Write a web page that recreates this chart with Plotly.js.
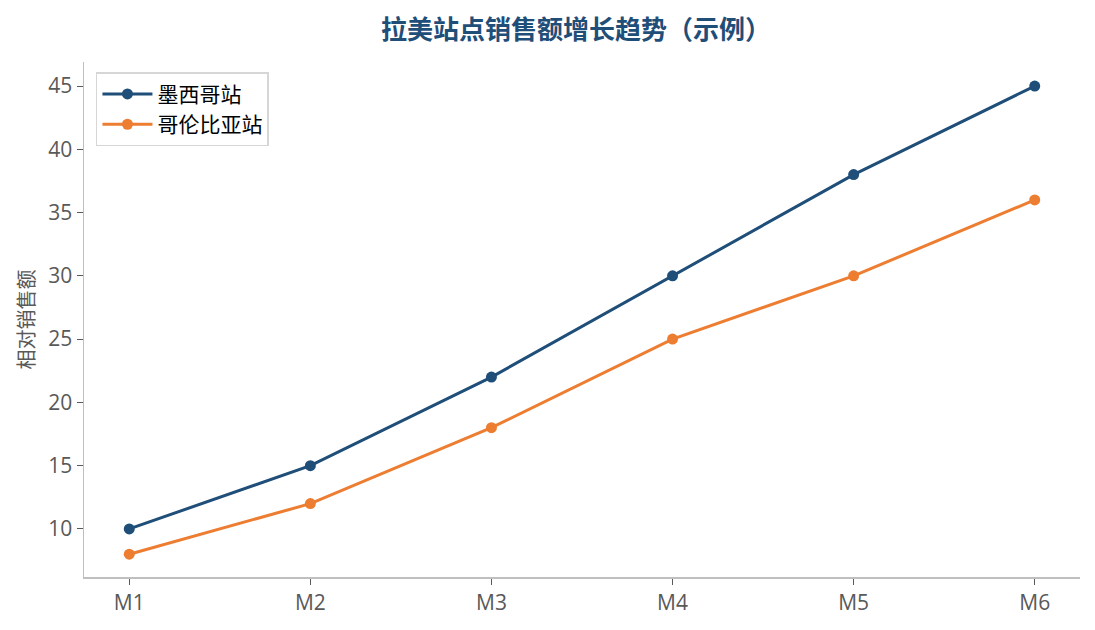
<!DOCTYPE html>
<html>
<head>
<meta charset="utf-8">
<script src="https://cdn.plot.ly/plotly-3.0.1.min.js"></script>
<style>
  html, body { margin: 0; padding: 0; background: #fff; }
  #chart { width: 1095px; height: 630px; }
</style>
</head>
<body>
<div id="chart"></div>
<script>
const months = ["M1", "M2", "M3", "M4", "M5", "M6"];
const mexico = [10, 15, 22, 30, 38, 45];
const colombia = [8, 12, 18, 25, 30, 36];
const seriesNames = ["墨西哥站", "哥伦比亚站"];
const seriesColors = ["#1f4e79", "#ed7d31"];

const fontFamily = '"Open Sans", "Noto Sans CJK SC", sans-serif';
const cjkFamily = '"Noto Sans CJK SC", sans-serif';

function makeTrace(name, values, color) {
  return {
    x: months,
    y: values,
    name: name,
    type: "scatter",
    mode: "lines+markers",
    line: { color: color, width: 3 },
    marker: { color: color, size: 11 },
  };
}

const data = [
  makeTrace(seriesNames[0], mexico, seriesColors[0]),
  makeTrace(seriesNames[1], colombia, seriesColors[1]),
];

const layout = {
  width: 1095,
  height: 630,
  paper_bgcolor: "#ffffff",
  plot_bgcolor: "#ffffff",
  margin: { l: 84, r: 15, t: 62, b: 53 },
  font: { family: fontFamily, color: "#595959", size: 20 },
  title: {
    text: "拉美站点销售额增长趋势（示例）",
    font: { family: cjkFamily, size: 26, color: "#1f4e79", weight: "bold" },
    x: 0.526,
    xanchor: "center",
    y: 0.952,
    yanchor: "middle",
  },
  xaxis: {
    type: "category",
    range: [-0.25, 5.25],
    showline: true,
    linecolor: "#bfbfbf",
    linewidth: 1.5,
    ticks: "outside",
    ticklen: 6,
    tickcolor: "#595959",
    showgrid: false,
    zeroline: false,
    tickfont: { size: 21, color: "#595959" },
  },
  yaxis: {
    range: [6.2, 46.9],
    tickvals: [10, 15, 20, 25, 30, 35, 40, 45],
    showline: true,
    linecolor: "#bfbfbf",
    linewidth: 1.5,
    ticks: "outside",
    ticklen: 6,
    tickcolor: "#595959",
    showgrid: false,
    zeroline: false,
    tickfont: { size: 21, color: "#595959" },
    title: {
      text: "相对销售额",
      font: { family: cjkFamily, size: 20, color: "#595959" },
      standoff: 8,
    },
  },
  legend: {
    x: 0.012,
    y: 0.98,
    xanchor: "left",
    yanchor: "top",
    bgcolor: "#ffffff",
    bordercolor: "#d6d6d6",
    borderwidth: 1.5,
    itemwidth: 50,
    tracegroupgap: 4,
    font: { family: cjkFamily, size: 21, color: "#000000" },
  },
  showlegend: true,
};

Plotly.newPlot("chart", data, layout, { displayModeBar: false, staticPlot: true });
</script>
</body>
</html>
